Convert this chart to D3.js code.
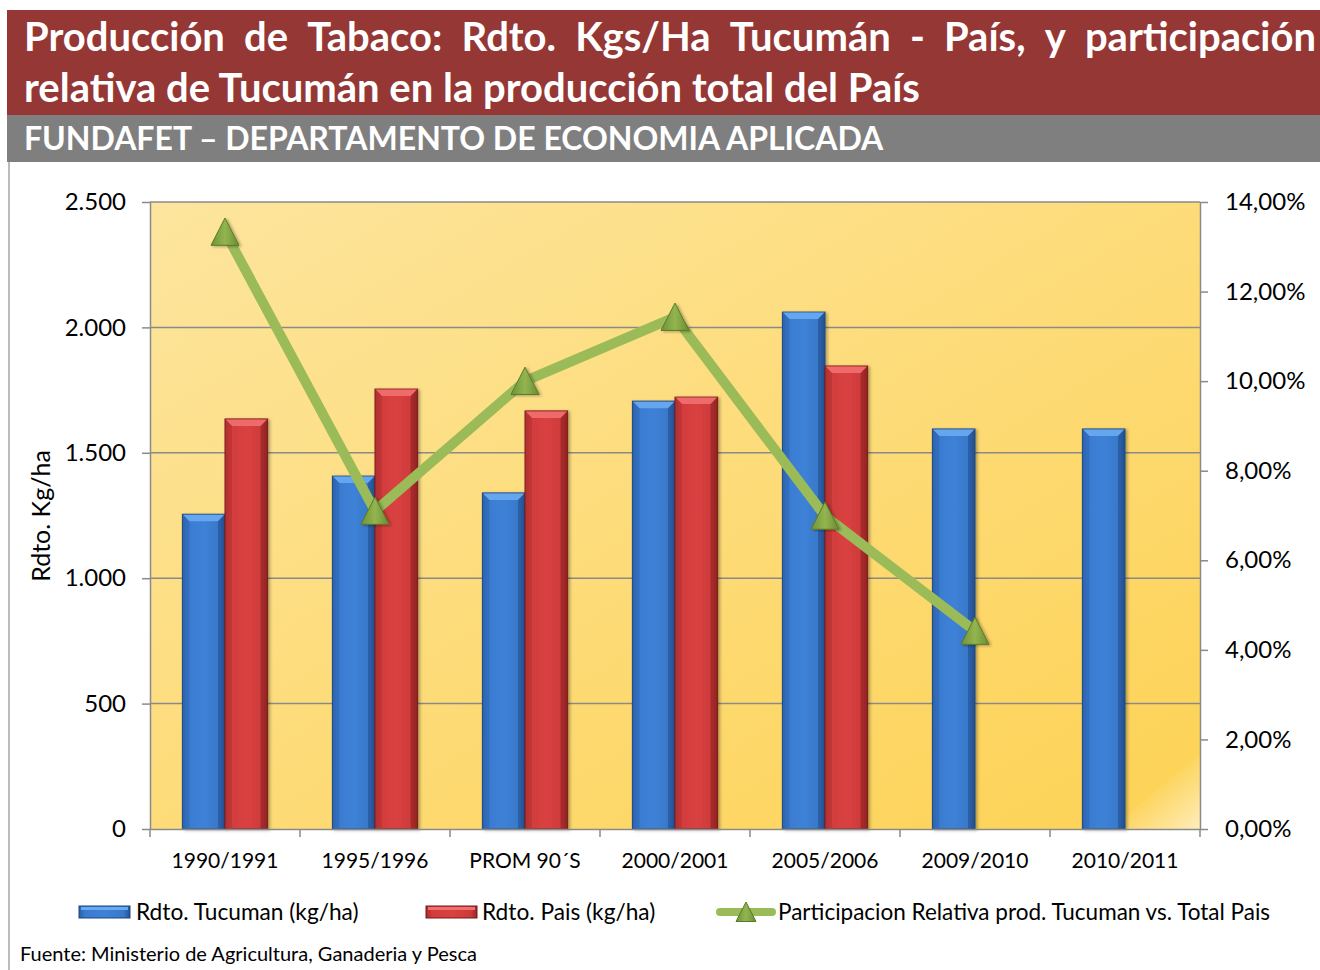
<!DOCTYPE html>
<html lang="es">
<head>
    <meta charset="UTF-8">
    <title>Producción de Tabaco</title>
    <script src="https://cdn.jsdelivr.net/npm/d3@7"></script>
    <style>
        html, body {
            margin: 0;
            padding: 0;
            background: #fff;
            overflow: hidden;
        }
        text {
            font-family: Lato, "Open Sans", sans-serif;
        }
        .grid line {
            stroke: #8a8a8a;
            stroke-width: 1.5px;
        }
        .axis path, .axis line {
            stroke: #8a8a8a;
            stroke-width: 1.5px;
        }
        .axis text {
            fill: #000;
        }
    </style>
</head>
<body>
</body>
<script>
    // datos
    const categories = ['1990/1991', '1995/1996', 'PROM 90´S', '2000/2001', '2005/2006', '2009/2010', '2010/2011'];
    const tucuman = [1255, 1407, 1340, 1706, 2061, 1595, 1595];
    const pais = [1635, 1754, 1667, 1722, 1846, null, null];
    const participacion = [0.1333, 0.0710, 0.1000, 0.1143, 0.0699, 0.0442, null];
    const leftTicks = [0, 500, 1000, 1500, 2000, 2500];
    const rightTicks = [0, 0.02, 0.04, 0.06, 0.08, 0.10, 0.12, 0.14];
    const seriesNames = ['Rdto. Tucuman (kg/ha)', 'Rdto. Pais (kg/ha)', 'Participacion Relativa prod. Tucuman vs. Total Pais'];

    const titleLine1 = 'Producción de Tabaco: Rdto. Kgs/Ha Tucumán - País, y participación';
    const titleLine2 = 'relativa de Tucumán en la producción total del País';
    const subtitle = 'FUNDAFET – DEPARTAMENTO DE ECONOMIA APLICADA';
    const source = 'Fuente: Ministerio de Agricultura, Ganaderia y Pesca';

    const width = 1320, height = 970;
    const plot = {left: 150, right: 1200, top: 202, bottom: 829};

    const locale = d3.formatLocale({decimal: ',', thousands: '.', grouping: [3], currency: ['$', '']});
    const fmtLeft = locale.format(',d');
    const fmtRight = locale.format('.2%');

    const svg = d3.select('body').append('svg')
        .attr('width', width)
        .attr('height', height);

    const defs = svg.append('defs');

    function hGradient(id, stops) {
        let g = defs.append('linearGradient').attr('id', id)
            .attr('x1', 0).attr('y1', 0).attr('x2', 1).attr('y2', 0);
        stops.forEach(s => g.append('stop').attr('offset', s[0]).attr('stop-color', s[1]));
    }

    hGradient('blueFill', [[0, '#2a5fa8'], [0.12, '#3a7bd0'], [0.5, '#3d82d7'], [0.88, '#3877c8'], [1, '#22508f']]);
    hGradient('redFill', [[0, '#a82c2c'], [0.12, '#d13c3c'], [0.5, '#da4141'], [0.88, '#cc3a3a'], [1, '#982525']]);
    hGradient('greenFill', [[0, '#6f9335'], [0.5, '#93b550'], [1, '#6a8c31']]);

    let bg = defs.append('linearGradient').attr('id', 'plotBg')
        .attr('x1', 0).attr('y1', 0).attr('x2', 1).attr('y2', 1);
    bg.append('stop').attr('offset', 0).attr('stop-color', '#fde59e');
    bg.append('stop').attr('offset', 1).attr('stop-color', '#fdd254');

    let hl = defs.append('linearGradient').attr('id', 'cornerHl')
        .attr('x1', 0).attr('y1', 0).attr('x2', 1).attr('y2', 1);
    hl.append('stop').attr('offset', 0.45).attr('stop-color', '#fff').attr('stop-opacity', 0);
    hl.append('stop').attr('offset', 1).attr('stop-color', '#fff').attr('stop-opacity', 0.6);

    let shadow = defs.append('filter').attr('id', 'shadow')
        .attr('x', '-20%').attr('y', '-5%').attr('width', '140%').attr('height', '115%');
    shadow.append('feDropShadow').attr('dx', 2).attr('dy', 1).attr('stdDeviation', 1.5)
        .attr('flood-color', '#000').attr('flood-opacity', 0.3);

    // encabezado
    svg.append('rect').attr('x', 7).attr('y', 10).attr('width', width - 7).attr('height', 105).attr('fill', '#953735');
    svg.append('rect').attr('x', 7).attr('y', 115).attr('width', width - 7).attr('height', 47).attr('fill', '#7f7f7f');
    svg.append('line').attr('x1', 9).attr('x2', 9).attr('y1', 162).attr('y2', height)
        .attr('stroke', '#a6a6a6').attr('stroke-width', 1.5);

    // primera línea justificada
    let words = titleLine1.split(' ');
    let l1 = svg.append('g');
    let wordNodes = words.map(w => l1.append('text')
        .attr('y', 51)
        .attr('fill', '#fff')
        .attr('font-weight', 'bold')
        .attr('font-size', 40)
        .text(w));
    let widths = wordNodes.map(n => n.node().getComputedTextLength());
    let gap = (1316 - 24 - d3.sum(widths)) / (words.length - 1);
    let cx = 24;
    wordNodes.forEach((n, i) => {
        n.attr('x', cx);
        cx += widths[i] + gap;
    });

    svg.append('text').attr('x', 24).attr('y', 102)
        .attr('fill', '#fff').attr('font-weight', 'bold').attr('font-size', 40)
        .text(titleLine2);

    svg.append('text').attr('x', 24).attr('y', 150)
        .attr('fill', '#fff').attr('font-weight', 'bold').attr('font-size', 32)
        .text(subtitle);

    // escalas
    let x0 = d3.scaleBand().domain(categories).range([plot.left, plot.right]).padding(0);
    let x1 = d3.scaleBand().domain(['t', 'p']).range([0, x0.bandwidth()])
        .paddingInner(0).paddingOuter(0.76);
    let yLeft = d3.scaleLinear().domain([0, 2500]).range([plot.bottom, plot.top]);
    let yRight = d3.scaleLinear().domain([0, 0.14]).range([plot.bottom, plot.top]);

    // fondo del área de trazado
    svg.append('rect')
        .attr('x', plot.left).attr('y', plot.top)
        .attr('width', plot.right - plot.left).attr('height', plot.bottom - plot.top)
        .attr('fill', 'url(#plotBg)');
    svg.append('path')
        .attr('d', `M${plot.right - 90},${plot.bottom} L${plot.right},${plot.bottom} L${plot.right},${plot.bottom - 75} Z`)
        .attr('fill', 'url(#cornerHl)');

    svg.append('g').classed('grid', true)
        .selectAll('line')
        .data(leftTicks.filter(d => d > 0)).enter()
        .append('line')
        .attr('x1', plot.left).attr('x2', plot.right)
        .attr('y1', d => yLeft(d)).attr('y2', d => yLeft(d));

    // barras
    let bars = [];
    categories.forEach((c, i) => {
        if (tucuman[i] != null) bars.push({cat: c, key: 't', value: tucuman[i]});
        if (pais[i] != null) bars.push({cat: c, key: 'p', value: pais[i]});
    });

    let barG = svg.append('g').selectAll('.bar')
        .data(bars).enter()
        .append('g')
        .classed('bar', true)
        .attr('filter', 'url(#shadow)');

    barG.each(function (d) {
        let g = d3.select(this);
        let bx = x0(d.cat) + x1(d.key);
        let bw = x1.bandwidth();
        let by = yLeft(d.value);
        let bh = plot.bottom - by;
        let blue = d.key === 't';
        g.append('rect')
            .attr('x', bx).attr('y', by).attr('width', bw).attr('height', bh)
            .attr('fill', blue ? 'url(#blueFill)' : 'url(#redFill)')
            .attr('stroke', blue ? '#1d4680' : '#741b1b')
            .attr('stroke-width', 1);
        let b = 7;
        g.append('path')
            .attr('d', `M${bx + 0.5},${by + 0.5} L${bx + bw - 0.5},${by + 0.5} L${bx + bw - b},${by + b} L${bx + b},${by + b} Z`)
            .attr('fill', blue ? '#65a6ef' : '#ef6b6b');
        g.append('path')
            .attr('d', `M${bx + 0.5},${by + 0.5} L${bx + b},${by + b} L${bx + b},${by + bh} L${bx + 0.5},${by + bh} Z`)
            .attr('fill', blue ? '#2f66b2' : '#b43030').attr('opacity', 0.6);
        g.append('path')
            .attr('d', `M${bx + bw - 0.5},${by + 0.5} L${bx + bw - b},${by + b} L${bx + bw - b},${by + bh} L${bx + bw - 0.5},${by + bh} Z`)
            .attr('fill', blue ? '#244f8f' : '#8e2222').attr('opacity', 0.6);
    });

    // ejes
    let axisLeft = svg.append('g').classed('axis', true)
        .attr('transform', `translate(${plot.left},0)`)
        .call(d3.axisLeft(yLeft).tickValues(leftTicks).tickFormat(fmtLeft).tickSize(8).tickSizeOuter(0).tickPadding(16));
    axisLeft.selectAll('text').attr('font-size', 24);

    let axisRight = svg.append('g').classed('axis', true)
        .attr('transform', `translate(${plot.right},0)`)
        .call(d3.axisRight(yRight).tickValues(rightTicks).tickFormat(fmtRight).tickSize(8).tickSizeOuter(0).tickPadding(17));
    axisRight.selectAll('text').attr('font-size', 24);

    let axisBottom = svg.append('g').classed('axis', true)
        .attr('transform', `translate(0,${plot.bottom})`)
        .call(d3.axisBottom(x0).tickSize(0).tickPadding(24));
    axisBottom.selectAll('text').attr('font-size', 21);
    axisBottom.selectAll('.sep')
        .data(d3.range(categories.length + 1)).enter()
        .append('line')
        .attr('stroke', '#8a8a8a').attr('stroke-width', 1.5)
        .attr('x1', i => plot.left + i * x0.step()).attr('x2', i => plot.left + i * x0.step())
        .attr('y1', 0).attr('y2', 8);
    svg.selectAll('.axis .domain').attr('stroke', '#8a8a8a');

    svg.append('text')
        .attr('transform', 'translate(50,516) rotate(-90)')
        .attr('text-anchor', 'middle')
        .attr('font-size', 25)
        .text('Rdto. Kg/ha');

    // línea de participación
    let pts = categories.map((c, i) => ({cat: c, value: participacion[i]})).filter(d => d.value != null);
    let line = d3.line()
        .x(d => x0(d.cat) + x0.bandwidth() / 2)
        .y(d => yRight(d.value));
    svg.append('path')
        .datum(pts)
        .attr('d', line)
        .attr('fill', 'none')
        .attr('stroke', '#9bbb59')
        .attr('stroke-width', 10)
        .attr('stroke-linejoin', 'miter');

    function triangle(cx, cy, s) {
        return `M${cx - s},${cy + s * 0.95} L${cx},${cy - s} L${cx + s},${cy + s * 0.95} Z`;
    }

    svg.append('g').selectAll('.marker')
        .data(pts).enter()
        .append('path')
        .classed('marker', true)
        .attr('d', d => triangle(x0(d.cat) + x0.bandwidth() / 2, yRight(d.value), 14))
        .attr('fill', 'url(#greenFill)')
        .attr('stroke', '#5b7a2a')
        .attr('stroke-width', 1)
        .attr('filter', 'url(#shadow)');

    // leyenda
    let legend = svg.append('g');
    let legY = 912;
    [['t', 79, 136], ['p', 426, 482]].forEach((l, i) => {
        let blue = l[0] === 't';
        legend.append('rect')
            .attr('x', l[1]).attr('y', legY - 6).attr('width', 51).attr('height', 12)
            .attr('fill', blue ? 'url(#blueFill)' : 'url(#redFill)')
            .attr('stroke', blue ? '#1d4680' : '#741b1b');
        legend.append('rect')
            .attr('x', l[1] + 2).attr('y', legY - 5).attr('width', 47).attr('height', 3)
            .attr('fill', blue ? '#6aa8ef' : '#ef7070');
        legend.append('text')
            .attr('x', l[2]).attr('y', legY + 8)
            .attr('font-size', 22.7)
            .text(seriesNames[i]);
    });
    legend.append('line')
        .attr('x1', 720).attr('x2', 772).attr('y1', legY).attr('y2', legY)
        .attr('stroke', '#9bbb59').attr('stroke-width', 8).attr('stroke-linecap', 'round');
    legend.append('path')
        .attr('d', triangle(746, legY, 10))
        .attr('fill', 'url(#greenFill)').attr('stroke', '#5b7a2a');
    legend.append('text')
        .attr('x', 778).attr('y', legY + 8)
        .attr('font-size', 22.5)
        .text(seriesNames[2]);

    svg.append('text')
        .attr('x', 20).attr('y', 961)
        .attr('font-size', 20)
        .text(source);
</script>
</html>
